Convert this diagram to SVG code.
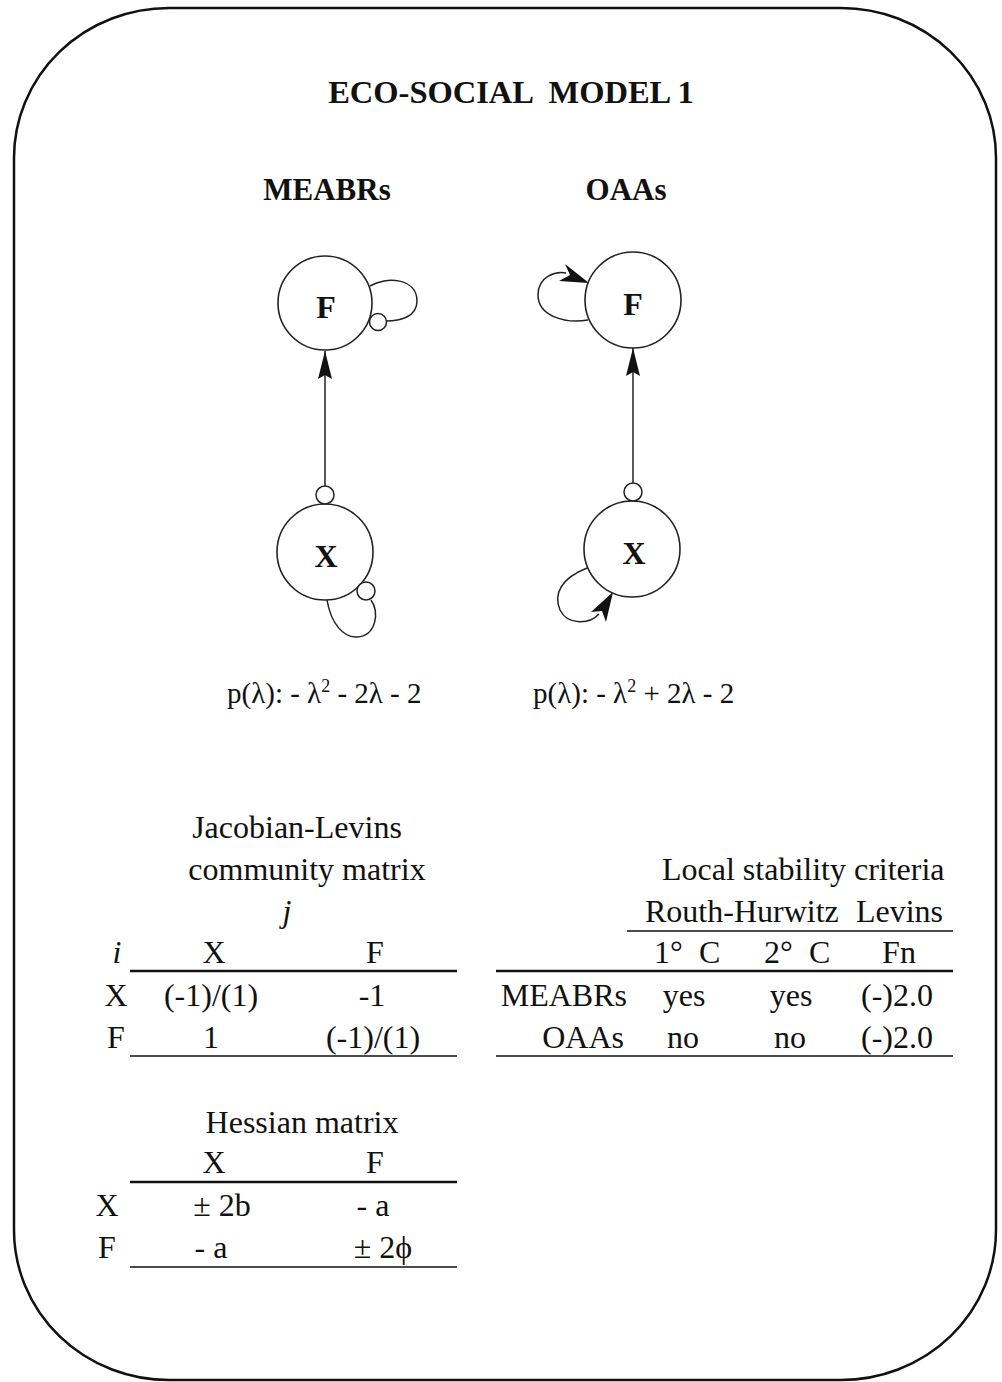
<svg xmlns="http://www.w3.org/2000/svg" width="1002" height="1382" viewBox="0 0 1002 1382">
<defs>
<style>
.t{font-family:"Liberation Serif","Times New Roman",serif;fill:#111;white-space:pre;}
.b{font-weight:bold;}
.c{text-anchor:middle;}
.e{text-anchor:end;}
.tx{font-size:32px;}
.node{fill:#fff;stroke:#222;stroke-width:1.6;}
.sm{fill:#fff;stroke:#222;stroke-width:1.5;}
.edge{fill:none;stroke:#222;stroke-width:1.5;}
.rule{stroke:#111;stroke-width:1.5;}
.rule2{stroke:#111;stroke-width:2.5;}
</style>
<marker id="arr" viewBox="0 0 28 14" refX="28" refY="7" markerWidth="28" markerHeight="14" markerUnits="userSpaceOnUse" orient="auto">
<path d="M0,0 L28,7 L0,14 L4,7 z" fill="#111"/>
</marker>
</defs>
<rect x="14" y="8" width="982" height="1372" rx="155" ry="150" fill="#fff" stroke="#111" stroke-width="2.5"/>

<text class="t b c" x="511" y="103" font-size="32.5">ECO-SOCIAL  MODEL 1</text>
<text class="t b c" x="327" y="200" font-size="31">MEABRs</text>
<text class="t b c" x="626" y="200" font-size="31">OAAs</text>

<g id="connectors">
<line class="edge" x1="325" y1="486" x2="325" y2="351" marker-end="url(#arr)"/>
<line class="edge" x1="633" y1="483" x2="633" y2="348" marker-end="url(#arr)"/>
<path class="edge" d="M370,286 C386,276 417,278 417,301 C417,317 400,321 386,321"/>
<path class="edge" d="M327,600 C331,624 344,638 357,637 C376,636 380,612 371,600"/>
<path class="edge" d="M588,320 C565,324 538,316 538,295 C538,276 556,271 566,273"/>
<polygon points="589,283 565,264 570,275 559,281" fill="#111"/>
<path class="edge" d="M587,568 C562,578 553,593 560,610 C568,626 590,624 599,614"/>
<polygon points="613,592 606,622 602,611 591,612" fill="#111"/>
</g>

<g id="node-meabrs-F">
<circle class="node" cx="325" cy="303" r="47"/>
<circle class="sm" cx="378" cy="322" r="8.5"/>
<text class="t b c" x="326" y="318" font-size="32">F</text>
</g>
<g id="node-meabrs-X">
<circle class="node" cx="325" cy="552" r="48"/>
<circle class="sm" cx="325" cy="495" r="9"/>
<circle class="sm" cx="366" cy="591" r="9"/>
<text class="t b c" x="326" y="567" font-size="32">X</text>
</g>
<g id="node-oaas-F">
<circle class="node" cx="633" cy="300" r="48"/>
<text class="t b c" x="633" y="315" font-size="32">F</text>
</g>
<g id="node-oaas-X">
<circle class="node" cx="632" cy="549" r="48"/>
<circle class="sm" cx="633" cy="492" r="9"/>
<text class="t b c" x="634" y="564" font-size="32">X</text>
</g>

<text class="t" x="227" y="703" font-size="29">p(λ): - λ<tspan font-size="18" dy="-11">2</tspan><tspan dy="11"> - 2λ - 2</tspan></text>
<text class="t" x="533" y="703" font-size="29">p(λ): - λ<tspan font-size="18" dy="-11">2</tspan><tspan dy="11"> + 2λ - 2</tspan></text>

<!-- Jacobian table -->
<g class="t tx">
<text class="c" x="297" y="838">Jacobian-Levins</text>
<text class="c" x="307" y="880">community matrix</text>
<text class="c" x="287" y="922" font-style="italic">j</text>
<text class="c" x="117" y="963" font-style="italic">i</text>
<text class="c" x="214" y="963">X</text>
<text class="c" x="375" y="963">F</text>
<text class="c" x="116" y="1006">X</text>
<text class="c" x="211" y="1006">(-1)/(1)</text>
<text class="c" x="372" y="1006">-1</text>
<text class="c" x="116" y="1048">F</text>
<text class="c" x="211" y="1048">1</text>
<text class="c" x="373" y="1048">(-1)/(1)</text>
</g>
<line class="rule2" x1="130" y1="971" x2="457" y2="971"/>
<line class="rule" x1="130" y1="1056" x2="457" y2="1056"/>

<!-- Stability table -->
<g class="t tx">
<text x="662" y="880">Local stability criteria</text>
<text x="645" y="922">Routh-Hurwitz</text>
<text class="e" x="943" y="922">Levins</text>
<text x="654" y="963">1°</text>
<text x="699" y="963">C</text>
<text x="764" y="963">2°</text>
<text x="809" y="963">C</text>
<text class="c" x="899" y="963">Fn</text>
<text class="e" x="627" y="1006">MEABRs</text>
<text class="c" x="684" y="1006">yes</text>
<text class="c" x="791" y="1006">yes</text>
<text class="c" x="897" y="1006">(-)2.0</text>
<text class="e" x="624" y="1048">OAAs</text>
<text class="c" x="683" y="1048">no</text>
<text class="c" x="790" y="1048">no</text>
<text class="c" x="897" y="1048">(-)2.0</text>
</g>
<line class="rule" x1="627" y1="931" x2="953" y2="931"/>
<line class="rule2" x1="496" y1="971" x2="953" y2="971"/>
<line class="rule" x1="496" y1="1056" x2="953" y2="1056"/>

<!-- Hessian table -->
<g class="t tx">
<text class="c" x="302" y="1133">Hessian matrix</text>
<text class="c" x="214" y="1173">X</text>
<text class="c" x="375" y="1173">F</text>
<text class="c" x="107" y="1216">X</text>
<text class="c" x="222" y="1216">± 2b</text>
<text class="c" x="373" y="1216">- a</text>
<text class="c" x="107" y="1258">F</text>
<text class="c" x="211" y="1258">- a</text>
<text class="c" x="383" y="1258">± 2ϕ</text>
</g>
<line class="rule2" x1="130" y1="1182" x2="457" y2="1182"/>
<line class="rule" x1="130" y1="1267" x2="457" y2="1267"/>
</svg>
